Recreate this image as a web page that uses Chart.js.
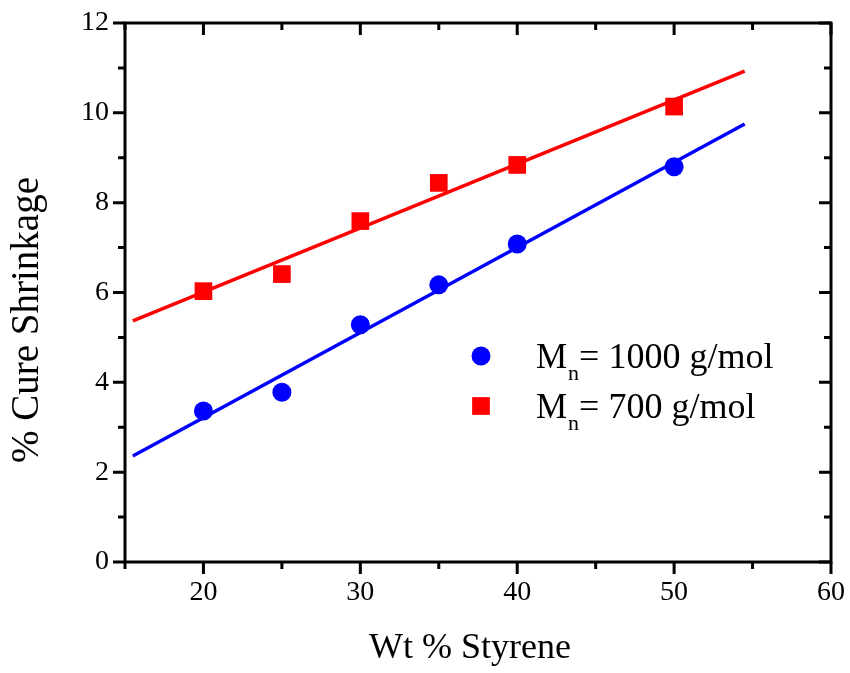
<!DOCTYPE html>
<html>
<head>
<meta charset="utf-8">
<script src="https://cdn.jsdelivr.net/npm/chart.js@4.4.1/dist/chart.umd.min.js"></script>
<style>
  html, body { margin: 0; padding: 0; background: #ffffff; }
  #wrap { width: 850px; height: 673px; }
</style>
</head>
<body>
<div id="wrap"><canvas id="c" width="850" height="673"></canvas></div>
<script>
// ---- data ----
const styreneWt = [20, 25, 30, 35, 40, 50];
const shrink1000 = [3.36, 3.78, 5.28, 6.17, 7.08, 8.80];
const shrink700  = [6.03, 6.41, 7.59, 8.44, 8.84, 10.14];
const fitX = [15.5, 54.5];
const fit1000 = [2.36, 9.75];
const fit700  = [5.37, 10.93];
const xTicks = [20, 30, 40, 50, 60];
const yTicks = [0, 2, 4, 6, 8, 10, 12];
const seriesLabels = ['1000 g/mol', '700 g/mol'];
const xTitle = 'Wt % Styrene';
const yTitle = '% Cure Shrinkage';

const FONT = '"Liberation Serif", "Times New Roman", serif';
const BLUE = '#0000ff';
const RED = '#ff0000';

function pts(xs, ys) { return xs.map((x, i) => ({ x: x, y: ys[i] })); }

function zeroPad(scale) {
  scale.paddingTop = 0; scale.paddingBottom = 0;
  scale.paddingLeft = 0; scale.paddingRight = 0;
}

const framePlugin = {
  id: 'frame',
  afterDraw(chart) {
    const ctx = chart.ctx;
    const a = chart.chartArea;
    const xs = chart.scales.x, ys = chart.scales.y;
    ctx.save();
    ctx.strokeStyle = '#000';
    ctx.lineWidth = 3;
    ctx.lineCap = 'butt';
    ctx.strokeRect(a.left, a.top, a.right - a.left, a.bottom - a.top);
    const MAJ = 12, MIN = 7;
    for (let v = 15; v <= 60; v += 5) {
      const px = xs.getPixelForValue(v);
      const len = (v % 10 === 0) ? MAJ : MIN;
      ctx.beginPath();
      ctx.moveTo(px, a.bottom); ctx.lineTo(px, a.bottom + len);
      ctx.moveTo(px, a.top); ctx.lineTo(px, a.top + len);
      ctx.stroke();
    }
    for (let v = 0; v <= 12; v += 1) {
      const py = ys.getPixelForValue(v);
      const len = (v % 2 === 0) ? MAJ : MIN;
      ctx.beginPath();
      ctx.moveTo(a.left, py); ctx.lineTo(a.left - len, py);
      ctx.moveTo(a.right, py); ctx.lineTo(a.right - len, py);
      ctx.stroke();
    }
    ctx.fillStyle = '#000';
    ctx.font = '36px ' + FONT;
    ctx.textAlign = 'left';
    ctx.textBaseline = 'alphabetic';
    ctx.fillText(xTitle, 369, 658);
    ctx.save();
    ctx.translate(38, 320);
    ctx.rotate(-Math.PI / 2);
    ctx.textAlign = 'center';
    ctx.font = '39px ' + FONT;
    ctx.fillText(yTitle, 0, 0);
    ctx.restore();

    const rows = [
      { ds: chart.data.datasets[0], y: 356, label: seriesLabels[0] },
      { ds: chart.data.datasets[1], y: 406, label: seriesLabels[1] }
    ];
    rows.forEach(r => {
      ctx.fillStyle = r.ds.backgroundColor;
      if (r.ds.pointStyle === 'rect') {
        const s = 17.7;
        ctx.fillRect(481 - s / 2, r.y - s / 2, s, s);
      } else {
        ctx.beginPath();
        ctx.arc(481, r.y, 9.5, 0, Math.PI * 2);
        ctx.fill();
      }
      ctx.fillStyle = '#000';
      ctx.textAlign = 'left';
      ctx.textBaseline = 'alphabetic';
      const base = r.y + 12;
      let x = 536;
      ctx.font = '35px ' + FONT;
      ctx.fillText('M', x, base);
      x += ctx.measureText('M').width + 1;
      ctx.font = '22px ' + FONT;
      ctx.fillText('n', x, base + 12);
      x += ctx.measureText('n').width;
      ctx.font = '36px ' + FONT;
      ctx.fillText('= ' + r.label, x, base);
    });
    ctx.restore();
  }
};

new Chart(document.getElementById('c'), {
  type: 'scatter',
  data: {
    datasets: [
      {
        label: 'Mn= ' + seriesLabels[0],
        data: pts(styreneWt, shrink1000),
        backgroundColor: BLUE, borderColor: BLUE,
        pointStyle: 'circle', pointRadius: 9.5, pointHoverRadius: 9.5, borderWidth: 0,
        order: 1
      },
      {
        label: 'Mn= ' + seriesLabels[1],
        data: pts(styreneWt, shrink700),
        backgroundColor: RED, borderColor: RED,
        pointStyle: 'rect', pointRadius: 12.5, pointHoverRadius: 12.5, borderWidth: 0,
        order: 1
      },
      {
        type: 'line', label: 'fit1000',
        data: pts(fitX, fit1000),
        borderColor: BLUE, borderWidth: 3.5, pointRadius: 0, fill: false,
        order: 2
      },
      {
        type: 'line', label: 'fit700',
        data: pts(fitX, fit700),
        borderColor: RED, borderWidth: 3.5, pointRadius: 0, fill: false,
        order: 2
      }
    ]
  },
  options: {
    responsive: false,
    animation: false,
    devicePixelRatio: 1,
    layout: { padding: { left: 0, right: 19, top: 23, bottom: 0 } },
    plugins: { legend: { display: false }, tooltip: { enabled: false } },
    scales: {
      x: {
        type: 'linear', min: 15, max: 60,
        grid: { display: false, drawTicks: false },
        border: { display: false },
        afterBuildTicks(scale) { scale.ticks = xTicks.map(v => ({ value: v })); },
        afterFit(scale) { scale.height = 111; zeroPad(scale); },
        ticks: { font: { family: FONT, size: 28 }, color: '#000', padding: 14, maxRotation: 0 }
      },
      y: {
        type: 'linear', min: 0, max: 12,
        grid: { display: false, drawTicks: false },
        border: { display: false },
        afterBuildTicks(scale) { scale.ticks = yTicks.map(v => ({ value: v })); },
        afterFit(scale) { scale.width = 125; zeroPad(scale); },
        ticks: { font: { family: FONT, size: 28 }, color: '#000', padding: 16 }
      }
    }
  },
  plugins: [framePlugin]
});
</script>
</body>
</html>
